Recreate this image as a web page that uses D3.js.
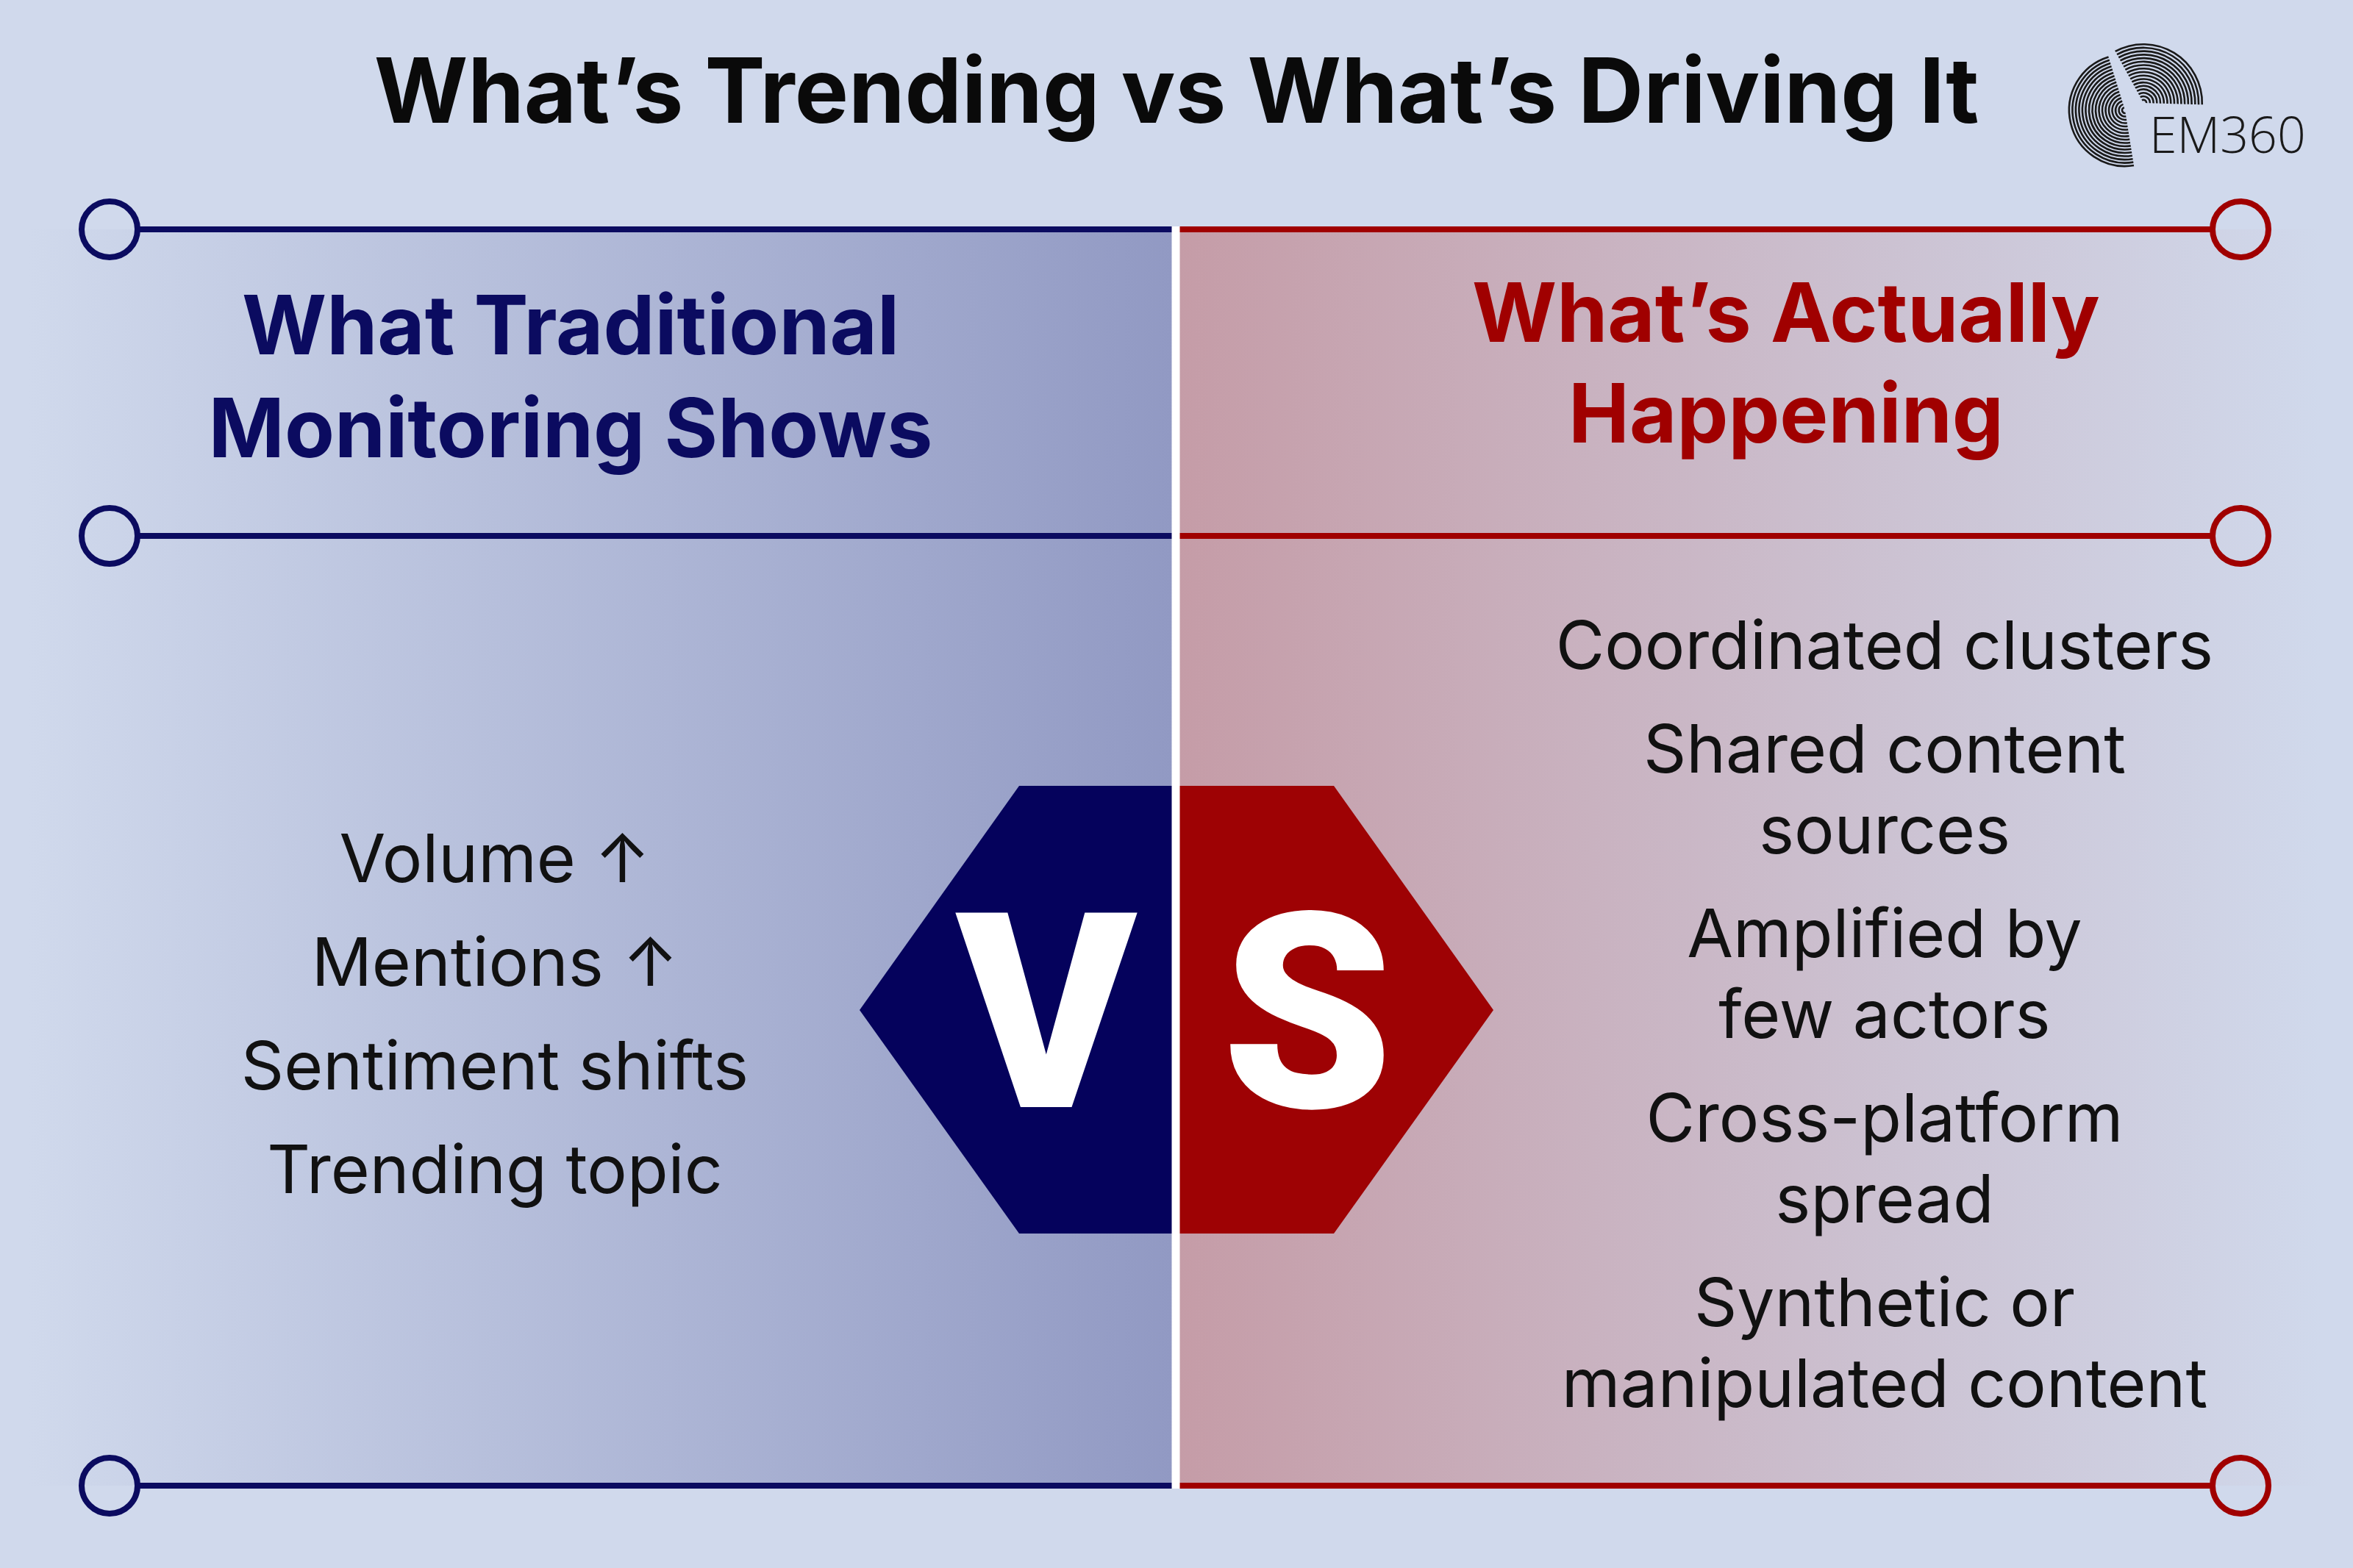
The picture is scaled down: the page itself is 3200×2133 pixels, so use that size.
<!DOCTYPE html>
<html>
<head>
<meta charset="utf-8">
<script src="https://cdn.jsdelivr.net/npm/d3@7"></script>
<style>
  body { margin: 0; background: #d0d9ec; }
  svg { display: block; }
</style>
</head>
<body>
<svg id="chart" width="3200" height="2133"></svg>
<script>

// content
var title = "What\u2019s Trending vs What\u2019s Driving It";
var leftHeading = ["What Traditional", "Monitoring Shows"];
var rightHeading = ["What\u2019s Actually", "Happening"];
var leftItems = ["Volume \u2191", "Mentions \u2191", "Sentiment shifts", "Trending topic"];
var rightItems = [
    ["Coordinated clusters"],
    ["Shared content", "sources"],
    ["Amplified by", "few actors"],
    ["Cross-platform", "spread"],
    ["Synthetic or", "manipulated content"]
];
var ruleRows = [312, 729, 2021];

var W = 3200, H = 2133, CX = 1599;
var NAVY = "#0b0b60", RED = "#a00000", BG = "#d0d9ec";
var FONT = "Inter, 'Open Sans', sans-serif";

var svg = d3.select("#chart");
var defs = svg.append("defs");

svg.append("rect").attr("width", W).attr("height", H).attr("fill", BG);

var gl = defs.append("linearGradient").attr("id", "gl")
    .attr("gradientUnits", "userSpaceOnUse")
    .attr("x1", 40).attr("x2", CX).attr("y1", 0).attr("y2", 0);
gl.append("stop").attr("offset", 0).attr("stop-color", BG);
gl.append("stop").attr("offset", 1).attr("stop-color", "#9199c3");

var gr = defs.append("linearGradient").attr("id", "gr")
    .attr("gradientUnits", "userSpaceOnUse")
    .attr("x1", CX).attr("x2", 3160).attr("y1", 0).attr("y2", 0);
gr.append("stop").attr("offset", 0).attr("stop-color", "#c59ca7");
gr.append("stop").attr("offset", 1).attr("stop-color", BG);

// panels
svg.append("rect").attr("x", 40).attr("y", ruleRows[0])
    .attr("width", CX - 40).attr("height", ruleRows[2] - ruleRows[0])
    .attr("fill", "url(#gl)");
svg.append("rect").attr("x", CX).attr("y", ruleRows[0])
    .attr("width", 3160 - CX).attr("height", ruleRows[2] - ruleRows[0])
    .attr("fill", "url(#gr)");

// rules + end circles
var rules = svg.append("g");
ruleRows.forEach(function(y) {
    rules.append("line").attr("x1", 188).attr("x2", CX).attr("y1", y).attr("y2", y)
        .attr("stroke", NAVY).attr("stroke-width", 8);
    rules.append("line").attr("x1", CX).attr("x2", 3008).attr("y1", y).attr("y2", y)
        .attr("stroke", RED).attr("stroke-width", 8);
    rules.append("circle").attr("cx", 149).attr("cy", y).attr("r", 38)
        .attr("fill", "none").attr("stroke", NAVY).attr("stroke-width", 8);
    rules.append("circle").attr("cx", 3047).attr("cy", y).attr("r", 38)
        .attr("fill", "none").attr("stroke", RED).attr("stroke-width", 8);
});

// hexagon halves
var hexL = [[1386, 1069], [CX, 1069], [CX, 1678], [1386, 1678], [1169, 1374]];
var hexR = [[CX, 1069], [1814, 1069], [2031, 1374], [1814, 1678], [CX, 1678]];
svg.append("path").attr("d", d3.line()(hexL) + "Z").attr("fill", "#05025c");
svg.append("path").attr("d", d3.line()(hexR) + "Z").attr("fill", "#9e0204");

svg.append("text").attr("x", 1423).attr("y", 1506).attr("text-anchor", "middle")
    .attr("font-family", "Roboto, 'Liberation Sans', sans-serif").attr("font-weight", 900)
    .attr("font-size", 372).attr("fill", "#fff").text("V");
svg.append("text").attr("x", 1778).attr("y", 1506).attr("text-anchor", "middle")
    .attr("font-family", "Roboto, 'Liberation Sans', sans-serif").attr("font-weight", 900)
    .attr("font-size", 372).attr("fill", "#fff").text("S");

// divider
svg.append("line").attr("x1", CX).attr("x2", CX).attr("y1", ruleRows[0] - 4).attr("y2", ruleRows[2] + 4)
    .attr("stroke", "#fff").attr("stroke-width", 11);

// title
svg.append("text").attr("x", 1600).attr("y", 167).attr("text-anchor", "middle")
    .attr("font-family", FONT).attr("font-weight", 700).attr("font-size", 123)
    .attr("fill", "#0a0a0a").text(title);

// headings
svg.append("g").selectAll("text").data(leftHeading).join("text")
    .attr("x", 776).attr("y", function(d, i) { return 482 + i * 140; })
    .attr("text-anchor", "middle").attr("font-family", FONT).attr("font-weight", 700)
    .attr("font-size", 111).attr("fill", NAVY).text(function(d) { return d; });
svg.append("g").selectAll("text").data(rightHeading).join("text")
    .attr("x", 2429).attr("y", function(d, i) { return 465 + i * 137; })
    .attr("text-anchor", "middle").attr("font-family", FONT).attr("font-weight", 700)
    .attr("font-size", 111).attr("fill", RED).text(function(d) { return d; });

// left list
var yLeft = d3.scalePoint().domain(leftItems).range([1200, 1623]);
svg.append("g").selectAll("text").data(leftItems).join("text")
    .attr("x", 673).attr("y", function(d) { return yLeft(d); })
    .attr("text-anchor", "middle").attr("font-family", FONT).attr("font-size", 91)
    .attr("fill", "#111").text(function(d) { return d; });

// right list: groups with wrapped lines
var rightLines = [];
var y = 910;
rightItems.forEach(function(group) {
    group.forEach(function(line, j) {
        rightLines.push({ text: line, y: y });
        y += (j < group.length - 1) ? 110 : 0;
    });
    y += 141;
});
svg.append("g").selectAll("text").data(rightLines).join("text")
    .attr("x", 2563).attr("y", function(d) { return d.y; })
    .attr("text-anchor", "middle").attr("font-family", FONT).attr("font-size", 91)
    .attr("fill", "#111").text(function(d) { return d.text; });

// logo
var logo = svg.append("g").attr("fill", "none").attr("stroke", "#1a1a1a").attr("stroke-width", 2.6);
d3.range(4, 78, 4.5).forEach(function(r) {
    logo.append("path").attr("d", d3.arc()({ innerRadius: r, outerRadius: r, startAngle: -3.3, endAngle: -0.3 }))
        .attr("transform", "translate(2890,150)");
    logo.append("path").attr("d", d3.arc()({ innerRadius: r * 1.05, outerRadius: r * 1.05, startAngle: -0.5, endAngle: 1.6 }))
        .attr("transform", "translate(2915,140)");
});
svg.append("text").attr("x", 2923).attr("y", 208).attr("font-family", "'Open Sans', sans-serif")
    .attr("font-weight", 300).attr("font-size", 68).attr("fill", "#1a1a1a").text("EM360");

</script>
</body>
</html>
